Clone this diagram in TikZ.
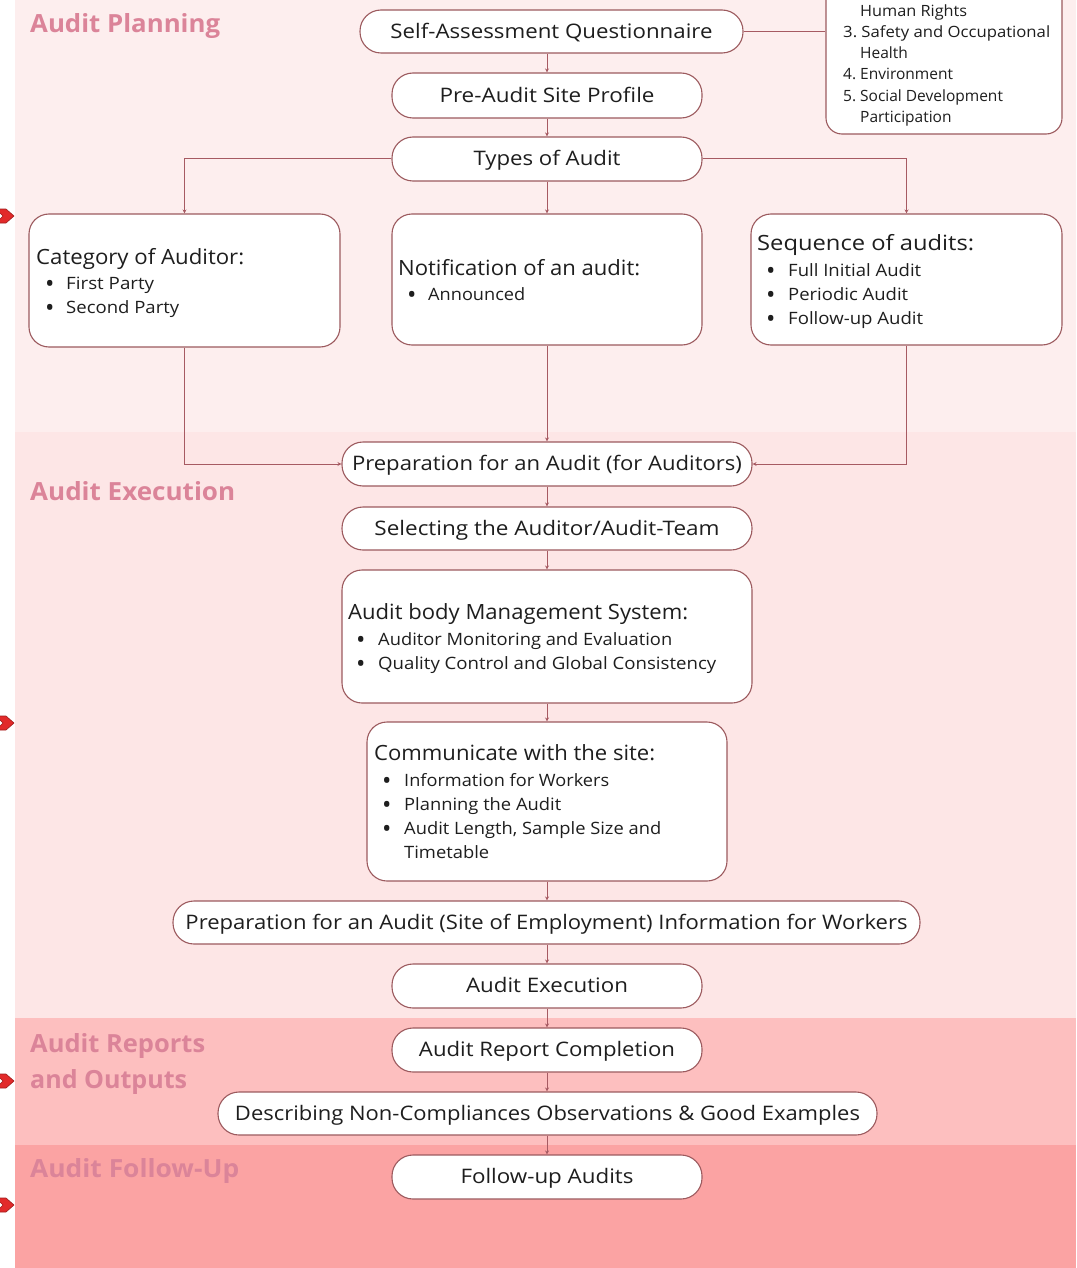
\documentclass[tikz,border=0pt]{standalone}
\usepackage{fontspec}
\usepackage{graphicx}
\setmainfont{Open Sans}
\usetikzlibrary{arrows.meta}
\definecolor{bandA}{HTML}{FDEEEE}
\definecolor{bandB}{HTML}{FDE6E6}
\definecolor{bandC}{HTML}{FDBFBF}
\definecolor{bandD}{HTML}{FBA3A3}
\definecolor{lblc}{HTML}{DB8499}
\definecolor{connc}{HTML}{A65A62}
\definecolor{boxc}{HTML}{9C5A5E}
\definecolor{txt}{HTML}{1E1E1E}
\definecolor{chev}{HTML}{E22A2A}
\newcommand\fitw[2]{\resizebox{#1pt}{\height}{#2}}
\newcommand\bul[1]{\makebox[#1pt][l]{\raisebox{-3pt}{\fontsize{25}{20}\selectfont\textbullet}}}
\begin{document}
\begin{tikzpicture}[x=1pt,y=-1pt,
  pill/.style={draw=boxc,fill=white,line width=1.1pt,rounded corners=21pt,inner sep=0pt,
    text=txt,font=\fontsize{20}{24}\selectfont,text depth=2pt},
  card/.style={draw=boxc,fill=white,line width=1.1pt,rounded corners=20pt,inner sep=0pt},
  lbl/.style={anchor=base west,inner sep=0pt,text=txt},
  ttl/.style={lbl,font=\fontsize{21}{24}\selectfont},
  itm/.style={lbl,font=\fontsize{17}{20}\selectfont},
  sml/.style={lbl,font=\fontsize{15.5}{18}\selectfont},
  band/.style={anchor=base west,inner sep=0pt,text=lblc,font=\fontsize{25}{28}\selectfont\bfseries},
  conn/.style={draw=connc,line width=1pt},
  arr/.style={-{Stealth[length=4pt,width=4pt]}},
  chevron/.style={fill=chev,draw=chev!70!black,line width=0.6pt}]
\useasboundingbox (0,0) rectangle (1076,1268);
\clip (0,0) rectangle (1076,1268);
\fill[white] (0,0) rectangle (1076,1268);
% bands
\fill[bandA] (15,0) rectangle (1076,432);
\fill[bandB] (15,432) rectangle (1076,1018);
\fill[bandC] (15,1018) rectangle (1076,1145);
\fill[bandD] (15,1145) rectangle (1076,1268);
% left chevrons
\foreach \yy in {216,723,1081,1205}{
  \path[chevron] (-4,\yy-7) -- (6,\yy-7) -- (14,\yy) -- (6,\yy+7) -- (-4,\yy+7) -- (3,\yy) -- cycle;
}
% band labels
\node[band] (lplan) at (30,33) {\fitw{190}{Audit Planning}};
\node[band] (lexec) at (30,500) {\fitw{205}{Audit Execution}};
\node[band] (lrep1) at (30,1052) {\fitw{175}{Audit Reports}};
\node[band] (lrep2) at (30,1088) {\fitw{157}{and Outputs}};
\node[band] (lfol) at (30,1177) {\fitw{209}{Audit Follow-Up}};

% top-right list box
\node[card,rounded corners=16pt,minimum width=236pt,minimum height=174pt] (tr) at (944,47) {};
\node[sml] (tr1) at (860,17) {\fitw{107}{Human Rights}};
\node[sml] (tr2) at (843,38) {\fitw{207}{\makebox[17pt][l]{3.}Safety and Occupational}};
\node[sml] (tr3) at (860,59) {Health};
\node[sml] (tr4) at (843,80) {\makebox[17pt][l]{4.}Environment};
\node[sml] (tr5) at (843,102) {\makebox[17pt][l]{5.}Social Development};
\node[sml] (tr6) at (860,123) {Participation};

% pills
\node[pill,minimum width=383pt,minimum height=43pt] (saq) at (551.5,31.5) {\fitw{322}{Self-Assessment Questionnaire}};
\node[pill,minimum width=310pt,minimum height=45pt] (pre) at (547,95.5) {\fitw{215}{Pre-Audit Site Profile}};
\node[pill,minimum width=310pt,minimum height=44pt] (types) at (547,159) {\fitw{147}{Types of Audit}};

% three cards
\node[card,minimum width=311pt,minimum height=133pt] (cat) at (184.5,280.5) {};
\node[ttl] (cat0) at (36,264) {\fitw{208}{Category of Auditor:}};
\node[itm] (cat1) at (45,289) {\bul{21}\fitw{88}{First Party}};
\node[itm] (cat2) at (45,313) {\bul{21}\fitw{113}{Second Party}};

\node[card,minimum width=310pt,minimum height=131pt] (notif) at (547,279.5) {};
\node[ttl] (not0) at (398,275) {\fitw{242}{Notification of an audit:}};
\node[itm] (not1) at (407,300) {\bul{21}\fitw{97}{Announced}};

\node[card,minimum width=311pt,minimum height=131pt] (seq) at (906.5,279.5) {};
\node[ttl] (seq0) at (757,250) {\fitw{217}{Sequence of audits:}};
\node[itm] (seq1) at (766,276) {\bul{22}\fitw{133}{Full Initial Audit}};
\node[itm] (seq2) at (766,300) {\bul{22}\fitw{120}{Periodic Audit}};
\node[itm] (seq3) at (766,324) {\bul{22}\fitw{135}{Follow-up Audit}};

% execution
\node[pill,minimum width=410pt,minimum height=44pt] (prep) at (547,464) {\fitw{390}{Preparation for an Audit (for Auditors)}};
\node[pill,minimum width=410pt,minimum height=43pt] (sel) at (547,528.5) {\fitw{345}{Selecting the Auditor/Audit-Team}};

\node[card,minimum width=410pt,minimum height=133pt] (ms) at (547,636.5) {};
\node[ttl] (ms0) at (348,619) {\fitw{340}{Audit body Management System:}};
\node[itm] (ms1) at (356,645) {\bul{22}\fitw{294}{Auditor Monitoring and Evaluation}};
\node[itm] (ms2) at (356,669) {\bul{22}\fitw{338}{Quality Control and Global Consistency}};

\node[card,minimum width=360pt,minimum height=159pt] (com) at (547,801.5) {};
\node[ttl] (com0) at (374,760) {\fitw{281}{Communicate with the site:}};
\node[itm] (com1) at (382,786) {\bul{22}\fitw{205}{Information for Workers}};
\node[itm] (com2) at (382,810) {\bul{22}\fitw{157}{Planning the Audit}};
\node[itm] (com3) at (382,834) {\bul{22}\fitw{257}{Audit Length, Sample Size and}};
\node[itm] (com4) at (404,858) {\fitw{85}{Timetable}};

\node[pill,minimum width=747pt,minimum height=43pt] (site) at (546.5,922.5) {\fitw{722}{Preparation for an Audit (Site of Employment) Information for Workers}};
\node[pill,minimum width=310pt,minimum height=44pt] (exe) at (547,986) {\fitw{162}{Audit Execution}};
\node[pill,minimum width=310pt,minimum height=44pt] (rep) at (547,1050) {\fitw{256}{Audit Report Completion}};
\node[pill,minimum width=659pt,minimum height=43pt] (des) at (547.5,1113.5) {\fitw{625}{Describing Non-Compliances Observations \& Good Examples}};
\node[pill,minimum width=310pt,minimum height=44pt] (fol) at (547,1177) {\fitw{173}{Follow-up Audits}};

% connectors
\draw[conn] (saq.east) -- (saq.east -| tr.west);
\draw[conn,arr] (saq.south -| pre.north) -- (pre.north);
\draw[conn,arr] (pre.south) -- (types.north);
\draw[conn,arr] (types.south) -- (notif.north);
\draw[conn,arr] (types.west) -| (cat.north);
\draw[conn,arr] (types.east) -| (seq.north);
\draw[conn,arr] (cat.south) |- (prep.west);
\draw[conn,arr] (seq.south) |- (prep.east);
\draw[conn,arr] (notif.south) -- (prep.north);
\draw[conn,arr] (prep.south) -- (sel.north);
\draw[conn,arr] (sel.south) -- (ms.north);
\draw[conn,arr] (ms.south) -- (com.north);
\draw[conn,arr] (com.south) -- (com.south |- site.north);
\draw[conn,arr] (com.south |- site.south) -- (exe.north);
\draw[conn,arr] (exe.south) -- (rep.north);
\draw[conn,arr] (rep.south) -- (rep.south |- des.north);
\draw[conn,arr] (rep.south |- des.south) -- (fol.north);
\end{tikzpicture}
\end{document}
